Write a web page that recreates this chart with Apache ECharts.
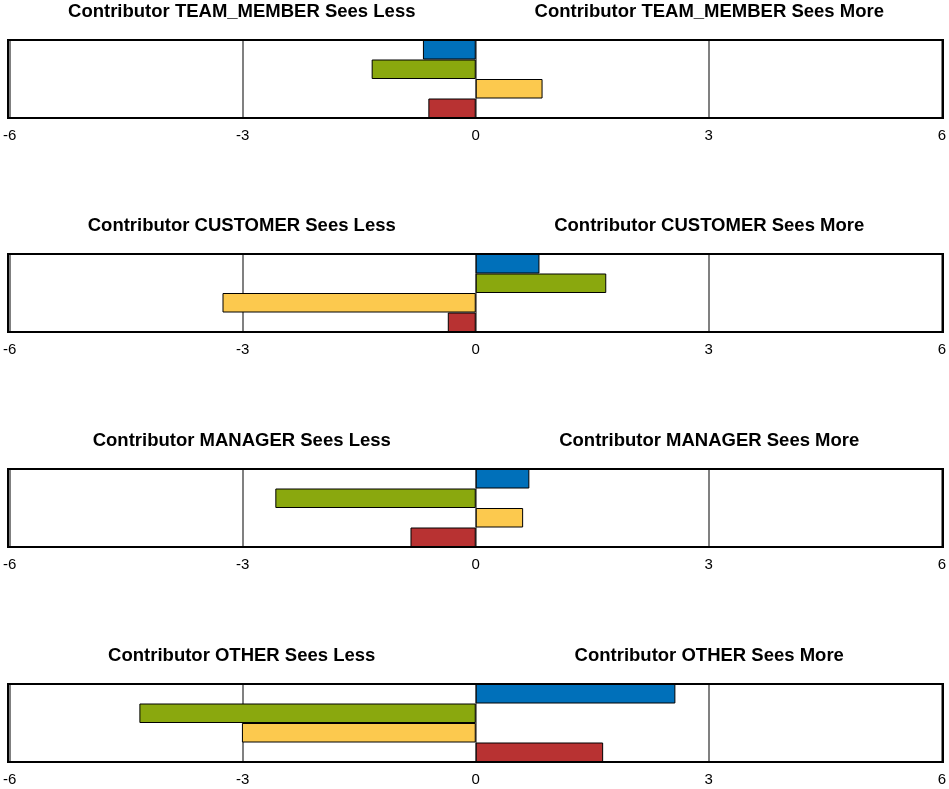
<!DOCTYPE html>
<html>
<head>
<meta charset="utf-8">
<script src="https://cdn.jsdelivr.net/npm/echarts@6/dist/echarts.min.js"></script>
<style>html,body{margin:0;padding:0;background:#fff}#c{width:949px;height:789px}</style>
</head>
<body>
<div id="c"></div>
<script>
const contributors = ['TEAM_MEMBER', 'CUSTOMER', 'MANAGER', 'OTHER'];
const barKeys = ['b1', 'b2', 'b3', 'b4'];
const blueVals   = [-0.68, 0.82, 0.69, 2.57];
const greenVals  = [-1.34, 1.68, -2.58, -4.33];
const yellowVals = [0.86, -3.26, 0.61, -3.01];
const redVals    = [-0.61, -0.36, -0.84, 1.64];
const xTicks = [-6, -3, 0, 3, 6];

const colors = ['#0070BA', '#8AA80E', '#FCC94E', '#B83232'];
const chart = echarts.init(document.getElementById('c'), null, {renderer: 'canvas'});

const plotLeft = 8, plotRight = 943, plotH = 78;
const tops = [40, 254, 469, 684];
const grids = [], xAxes = [], yAxes = [], series = [], graphics = [];
const zeroX = plotLeft + (plotRight - plotLeft) / 2;

contributors.forEach((name, i) => {
  grids.push({left: plotLeft, top: tops[i], width: plotRight - plotLeft, height: plotH,
    show: true, borderColor: '#000', borderWidth: 0, backgroundColor: '#fff', containLabel: false});
  xAxes.push({type: 'value', gridIndex: i, min: xTicks[0], max: xTicks[xTicks.length - 1], interval: 3,
    axisLine: {show: false}, axisTick: {show: false},
    axisLabel: {color: '#000', fontSize: 15, fontFamily: 'Liberation Sans, Arial', margin: 10,
      formatter: v => String(v)},
    splitLine: {show: true, lineStyle: {color: '#808080', width: 2}}});
  yAxes.push({type: 'category', gridIndex: i, data: barKeys, inverse: true,
    axisLine: {show: false}, axisTick: {show: false}, axisLabel: {show: false}, splitLine: {show: false}});
  const vals = [blueVals[i], greenVals[i], yellowVals[i], redVals[i]];
  series.push({type: 'bar', xAxisIndex: i, yAxisIndex: i, barWidth: '100%', barGap: '0%',
    animation: false, silent: true,
    data: vals.map((v, k) => ({value: v, itemStyle: {color: colors[k], borderColor: '#000', borderWidth: 1}}))});
  graphics.push({type: 'rect', z: 100, silent: true,
    shape: {x: plotLeft, y: tops[i], width: plotRight - plotLeft, height: plotH},
    style: {fill: 'none', stroke: '#000', lineWidth: 2}});
  const ty = tops[i] - 28;
  graphics.push({type: 'text', x: (plotLeft + zeroX) / 2, y: ty,
    style: {text: 'Contributor ' + name + ' Sees Less', fontSize: 18.5, fontWeight: 'bold',
      fontFamily: 'Liberation Sans, Arial', fill: '#000', align: 'center', verticalAlign: 'middle'}});
  graphics.push({type: 'text', x: (zeroX + plotRight) / 2, y: ty,
    style: {text: 'Contributor ' + name + ' Sees More', fontSize: 18.5, fontWeight: 'bold',
      fontFamily: 'Liberation Sans, Arial', fill: '#000', align: 'center', verticalAlign: 'middle'}});
});

chart.setOption({animation: false, grid: grids, xAxis: xAxes, yAxis: yAxes, series: series, graphic: graphics});
</script>
</body>
</html>
